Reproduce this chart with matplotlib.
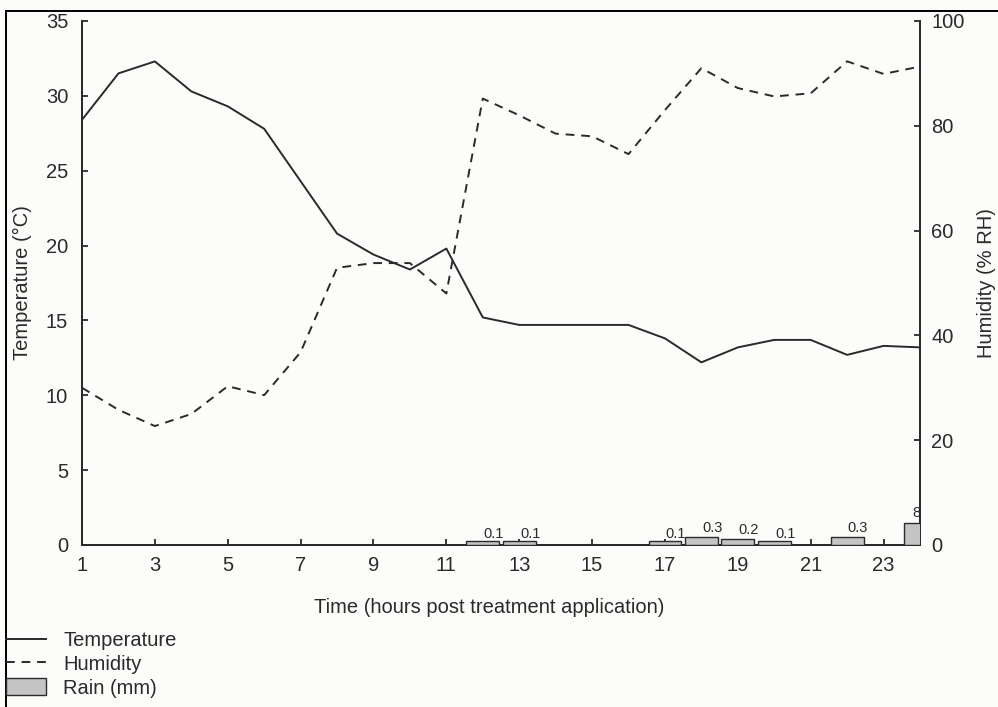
import matplotlib.pyplot as plt
from matplotlib.patches import Rectangle, Patch
from matplotlib.lines import Line2D

plt.rcParams['font.family'] = ['Liberation Sans', 'DejaVu Sans']

# datos
horas = list(range(1, 25))
temperatura = [28.4, 31.5, 32.3, 30.3, 29.3, 27.8, 24.3, 20.8, 19.4, 18.4, 19.8, 15.2,
               14.7, 14.7, 14.7, 14.7, 13.8, 12.2, 13.2, 13.7, 13.7, 12.7, 13.3, 13.2]
humedad = [30.0, 25.8, 22.7, 25.0, 30.3, 28.6, 36.8, 52.9, 53.8, 53.8, 48.0, 85.2,
           82.0, 78.5, 78.0, 74.6, 83.0, 91.0, 87.2, 85.6, 86.2, 92.3, 89.9, 91.3]
horas_lluvia = [12, 13, 17, 18, 19, 20, 22, 24]
lluvia = [0.1, 0.1, 0.1, 0.3, 0.2, 0.1, 0.3, 8]
etiquetas_lluvia = ['0.1', '0.1', '0.1', '0.3', '0.2', '0.1', '0.3', '8']

W, H = 998, 707
fig = plt.figure(figsize=(W / 100, H / 100), dpi=100)
fig.patch.set_facecolor('#fcfcfa')

# marco del recorte (solo se ven arriba e izquierda)
fig.add_artist(Rectangle((6 / W, -1), 3, 2 - 11 / H, transform=fig.transFigure,
                         fill=False, edgecolor='black', linewidth=1.4))

ax = fig.add_axes([82 / W, 1 - 545 / H, (920 - 82) / W, (545 - 21) / H])
ax.set_facecolor('none')
gris = '#2a2a2a'
fs = 14.5

ax.plot(horas, temperatura, color=gris, linewidth=1.4, zorder=3)
ax.set_xlim(1, 24)
ax.set_ylim(0, 35)
ax.set_yticks(range(0, 36, 5))
ax.set_xticks(range(1, 24, 2))
ax.set_xticks(range(1, 25), minor=True)
ax.spines['top'].set_visible(False)
for s in ['left', 'right', 'bottom']:
    ax.spines[s].set_color(gris)
    ax.spines[s].set_linewidth(1.3)
ax.tick_params(axis='both', which='both', direction='in', length=4, width=1.3,
               colors=gris, labelsize=fs)
ax.tick_params(axis='y', pad=10)
ax.tick_params(axis='x', pad=8)
ax.set_ylabel('Temperature (°C)', fontsize=fs, color=gris, labelpad=10)
ax.set_xlabel('Time (hours post treatment application)', fontsize=fs, color=gris)
ax.xaxis.set_label_coords(0.486, -0.102)

ax2 = ax.twinx()
ax2.plot(horas, humedad, color=gris, linewidth=1.4, dashes=(4.5, 3.5), zorder=3)
ax2.set_ylim(0, 100)
ax2.set_yticks(range(0, 101, 20))
ax2.spines['top'].set_visible(False)
for s in ['left', 'right', 'bottom']:
    ax2.spines[s].set_color(gris)
    ax2.spines[s].set_linewidth(1.3)
ax2.tick_params(axis='y', direction='in', length=4, width=1.3, colors=gris,
                labelsize=fs, pad=8)
ax2.set_ylabel('Humidity (% RH)', fontsize=fs, color=gris, labelpad=9)

# lluvia en escala logaritmica propia
ax3 = ax.twinx()
ax3.set_yscale('log')
ax3.set_ylim(0.07, 0.07 * 10 ** 49)
ax3.bar(horas_lluvia, lluvia, width=0.9, bottom=0.07, color='#c4c4c4',
        edgecolor=gris, linewidth=1.0, zorder=2)
for xh, v, t in zip(horas_lluvia, lluvia, etiquetas_lluvia):
    ax3.annotate(t, (min(xh + 0.3, 23.9), v), xytext=(0, 2), textcoords='offset points',
                 ha='center', va='bottom', fontsize=10.5, color=gris)
ax3.set_yticks([])
ax3.minorticks_off()
ax3.tick_params(axis='y', which='both', length=0, labelright=False)
for s in ax3.spines.values():
    s.set_visible(False)

handles = [Line2D([], [], color=gris, linewidth=1.4),
           Line2D([], [], color=gris, linewidth=1.4, dashes=(4.5, 3.5)),
           Patch(facecolor='#c4c4c4', edgecolor=gris, linewidth=1.0)]
fig.legend(handles, ['Temperature', 'Humidity', 'Rain (mm)'], loc='upper left',
           bbox_to_anchor=(6 / W, 1 - 631 / H), frameon=False, fontsize=fs,
           handlelength=2.0, handleheight=0.9, handletextpad=0.85, labelspacing=0.22,
           borderpad=0, borderaxespad=0, labelcolor=gris)

fig.savefig('out.png', dpi=100, facecolor=fig.get_facecolor())
